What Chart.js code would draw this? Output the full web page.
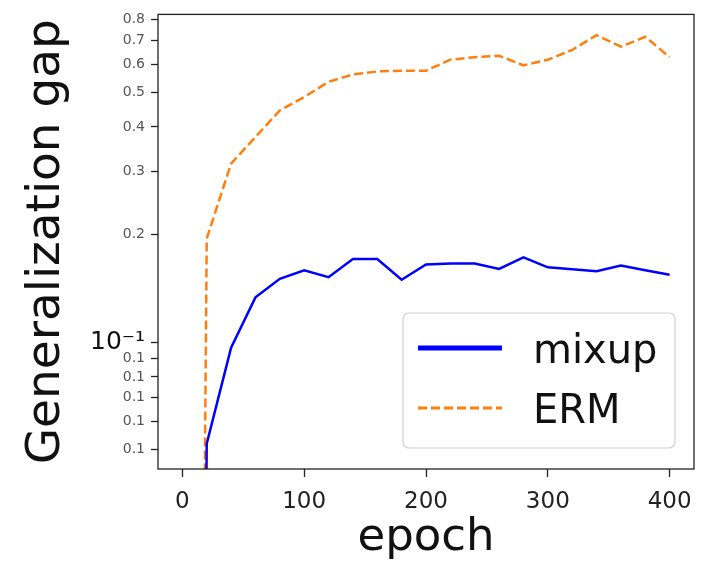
<!DOCTYPE html>
<html>
<head>
<meta charset="utf-8">
<title>Generalization gap</title>
<script src="https://cdn.jsdelivr.net/npm/chart.js@4.4.1/dist/chart.umd.min.js"></script>
<style>
  html, body { margin: 0; padding: 0; background: #fff; }
  #gapChart { display: block; }
</style>
</head>
<body>
<canvas id="gapChart" width="715" height="571"></canvas>
<script>
// data
var epochs = [0, 20, 40, 60, 80, 100, 120, 140, 160, 180, 200, 220, 240, 260, 280, 300, 320, 340, 360, 380, 400];
var mixupGap = [0, 0.052, 0.0965, 0.1335, 0.1505, 0.159, 0.152, 0.171, 0.171, 0.1496, 0.165, 0.166, 0.166, 0.1604, 0.1728, 0.162, 0.160, 0.158, 0.164, 0.159, 0.1544];
var ermGap = [0, 0.195, 0.316, 0.375, 0.445, 0.485, 0.535, 0.561, 0.572, 0.575, 0.575, 0.617, 0.627, 0.633, 0.595, 0.617, 0.657, 0.723, 0.671, 0.715, 0.627];

var xTicks = [0, 100, 200, 300, 400];
var yTicks = [0.05, 0.06, 0.07, 0.08, 0.09, 0.1, 0.2, 0.3, 0.4, 0.5, 0.6, 0.7, 0.8];
var yTickLabels = ['0.1', '0.1', '0.1', '0.1', '0.1', '10\u207B\u00B9', '0.2', '0.3', '0.4', '0.5', '0.6', '0.7', '0.8'];

var FONT = 'DejaVu Sans';

// matplotlib clips non-positive values on a log axis, so the line drops straight off the bottom
function toPoints(vals) {
    return epochs.map(function (e, i) {
        return { x: e, y: vals[i] > 0 ? vals[i] : 1e-9 };
    });
}

var frameAndLegend = {
    id: 'frameAndLegend',
    afterDraw: function (chart) {
        var ctx = chart.ctx, a = chart.chartArea;
        ctx.save();
        ctx.strokeStyle = '#222';
        ctx.lineWidth = 1.3;
        ctx.strokeRect(a.left, a.top, a.right - a.left, a.bottom - a.top);

        // legend box in the lower right corner
        var bw = 272, bh = 135;
        var bx = a.right - 19 - bw, by = a.bottom - 21 - bh, r = 6;
        ctx.beginPath();
        ctx.moveTo(bx + r, by);
        ctx.arcTo(bx + bw, by, bx + bw, by + bh, r);
        ctx.arcTo(bx + bw, by + bh, bx, by + bh, r);
        ctx.arcTo(bx, by + bh, bx, by, r);
        ctx.arcTo(bx, by, bx + bw, by, r);
        ctx.closePath();
        ctx.fillStyle = 'rgba(255,255,255,0.85)';
        ctx.fill();
        ctx.strokeStyle = '#d0d0d0';
        ctx.lineWidth = 1.2;
        ctx.stroke();

        chart.data.datasets.forEach(function (ds, i) {
            var ly = by + 35 + i * 60;
            ctx.beginPath();
            ctx.setLineDash(ds.borderDash || []);
            ctx.strokeStyle = ds.borderColor;
            ctx.lineWidth = i === 0 ? 5 : 3;
            ctx.moveTo(bx + 15, ly);
            ctx.lineTo(bx + 99, ly);
            ctx.stroke();
            ctx.setLineDash([]);
            ctx.fillStyle = '#111';
            ctx.font = '40px "' + FONT + '"';
            ctx.textAlign = 'left';
            ctx.textBaseline = 'alphabetic';
            ctx.fillText(ds.label, bx + 130, ly + 15);
        });
        ctx.restore();
    }
};

var ctx = document.getElementById('gapChart').getContext('2d');
var gapChart = new Chart(ctx, {
    type: 'line',
    data: {
        datasets: [{
            label: 'mixup',
            data: toPoints(mixupGap),
            borderColor: '#0000ff',
            borderWidth: 2.5,
            pointRadius: 0,
            tension: 0,
            fill: false
        }, {
            label: 'ERM',
            data: toPoints(ermGap),
            borderColor: '#ff7f0e',
            borderWidth: 2.5,
            borderDash: [9, 4],
            pointRadius: 0,
            tension: 0,
            fill: false
        }]
    },
    options: {
        responsive: false,
        animation: false,
        layout: { padding: { top: 10, right: 21, left: 0, bottom: 0 } },
        plugins: {
            legend: { display: false },
            tooltip: { enabled: false }
        },
        scales: {
            x: {
                type: 'linear',
                min: -20,
                max: 420,
                bounds: 'data',
                afterBuildTicks: function (s) {
                    s.ticks = xTicks.map(function (v) { return { value: v }; });
                },
                afterFit: function (s) { s.height = 102; },
                border: { display: false },
                grid: {
                    display: true,
                    drawOnChartArea: false,
                    drawTicks: true,
                    tickLength: 8,
                    tickWidth: 1.3,
                    tickColor: '#222'
                },
                ticks: {
                    autoSkip: false,
                    maxRotation: 0,
                    padding: 11,
                    color: '#222',
                    font: { family: FONT, size: 23 }
                },
                title: {
                    display: true,
                    text: 'epoch',
                    color: '#111',
                    font: { family: FONT, size: 45, lineHeight: 1.2 },
                    padding: { top: 0, bottom: 6 }
                }
            },
            y: {
                type: 'logarithmic',
                min: 0.0442,
                max: 0.826,
                bounds: 'data',
                afterBuildTicks: function (s) {
                    s.ticks = yTicks.map(function (v) { return { value: v }; });
                },
                afterFit: function (s) { s.width = 158; },
                border: { display: false },
                grid: {
                    display: true,
                    drawOnChartArea: false,
                    drawTicks: true,
                    tickLength: 7,
                    tickWidth: 1.3,
                    tickColor: '#222'
                },
                ticks: {
                    autoSkip: false,
                    padding: 6,
                    callback: function (v, i) { return yTickLabels[i]; },
                    color: function (c) { return c.tick && c.tick.value === 0.1 ? '#111' : '#555'; },
                    font: function (c) {
                        return c.tick && c.tick.value === 0.1 ? { family: FONT, size: 25 } : { family: FONT, size: 14 };
                    }
                },
                title: {
                    display: true,
                    text: 'Generalization gap',
                    color: '#111',
                    font: { family: FONT, size: 47, lineHeight: 1.2 },
                    padding: { top: 19, bottom: 0 }
                }
            }
        }
    },
    plugins: [frameAndLegend]
});
</script>
</body>
</html>
